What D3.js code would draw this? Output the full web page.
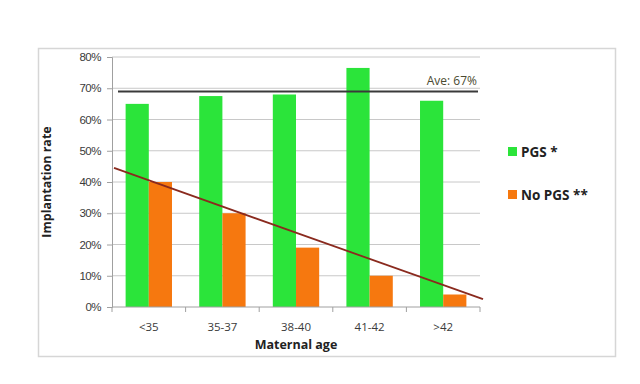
<!DOCTYPE html>
<html>
<head>
<meta charset="utf-8">
<script src="https://cdn.jsdelivr.net/npm/d3@7"></script>
<style>
  body { margin: 0; background: #fff; }
  svg { display: block; font-family: "Open Sans", "Liberation Sans", sans-serif; }
</style>
</head>
<body>
<svg width="640" height="384"></svg>
<script>
// data
var ages = ["<35", "35-37", "38-40", "41-42", ">42"];
var pgs = [0.65, 0.675, 0.68, 0.765, 0.66];
var noPgs = [0.40, 0.30, 0.19, 0.10, 0.04];
var yTicks = [0, 0.1, 0.2, 0.3, 0.4, 0.5, 0.6, 0.7, 0.8];
var aveValue = 0.69;      // drawn position of the average line
var aveLabel = "Ave: 67%";
var trend = [0.445, 0.025]; // trend line at left and right end of the axis

var svg = d3.select("svg");

// outer frame
svg.append("rect")
    .attr("x", 38.5).attr("y", 48.5)
    .attr("width", 577).attr("height", 308)
    .attr("fill", "#fff")
    .attr("stroke", "#d6d6d6")
    .attr("stroke-width", 1.5);

var plotLeft = 112, plotRight = 480, plotTop = 57, plotBottom = 307;

var x = d3.scaleBand().domain(ages).range([plotLeft, plotRight]).paddingInner(0.37).paddingOuter(0.185);
var y = d3.scaleLinear().domain([0, 0.8]).range([plotBottom, plotTop]);

// gridlines
svg.append("g").selectAll("line")
    .data(yTicks.slice(1))
    .enter().append("line")
    .attr("x1", plotLeft).attr("x2", plotRight)
    .attr("y1", function(d) { return y(d); })
    .attr("y2", function(d) { return y(d); })
    .attr("stroke", "#c8c8c8")
    .attr("stroke-width", 1);

// y axis
var yAxis = svg.append("g")
    .attr("transform", "translate(" + plotLeft + ",0)")
    .call(d3.axisLeft(y).tickValues(yTicks).tickFormat(d3.format(".0%")).tickSize(5).tickPadding(6));
yAxis.select(".domain").attr("stroke", "#a0a0a0");
yAxis.selectAll(".tick line").attr("stroke", "#a0a0a0");
yAxis.selectAll("text").attr("font-size", 11.5).attr("fill", "#3a3a3a").attr("letter-spacing", "-0.5");

// bars
var half = x.bandwidth() / 2;
svg.append("g").selectAll("rect")
    .data(pgs)
    .enter().append("rect")
    .attr("x", function(d, i) { return x(ages[i]); })
    .attr("y", function(d) { return y(d); })
    .attr("width", half)
    .attr("height", function(d) { return plotBottom - y(d); })
    .attr("fill", "#2be43a");

svg.append("g").selectAll("rect")
    .data(noPgs)
    .enter().append("rect")
    .attr("x", function(d, i) { return x(ages[i]) + half; })
    .attr("y", function(d) { return y(d); })
    .attr("width", half)
    .attr("height", function(d) { return plotBottom - y(d); })
    .attr("fill", "#f6780f");

// x axis
var xBounds = d3.range(ages.length + 1).map(function(i) { return plotLeft + i * (plotRight - plotLeft) / ages.length; });
var xAxis = svg.append("g").attr("transform", "translate(0," + plotBottom + ")");
xAxis.append("line").attr("x1", plotLeft).attr("x2", plotRight).attr("stroke", "#a0a0a0");
xAxis.selectAll(".tk")
    .data(xBounds)
    .enter().append("line")
    .attr("x1", function(d) { return d; }).attr("x2", function(d) { return d; })
    .attr("y1", 0).attr("y2", 5)
    .attr("stroke", "#a0a0a0");
xAxis.selectAll("text")
    .data(ages)
    .enter().append("text")
    .attr("x", function(d) { return x(d) + x.bandwidth() / 2; })
    .attr("y", 24)
    .attr("text-anchor", "middle")
    .attr("font-size", 11.5)
    .attr("fill", "#3a3a3a")
    .text(function(d) { return d; });

// average line
svg.append("line")
    .attr("x1", plotLeft + 6).attr("x2", plotRight - 2)
    .attr("y1", y(aveValue)).attr("y2", y(aveValue))
    .attr("stroke", "#3a3a3a")
    .attr("stroke-width", 2);
svg.append("text")
    .attr("x", 477).attr("y", y(aveValue) - 6)
    .attr("text-anchor", "end")
    .attr("font-size", 12)
    .attr("fill", "#4a4a30")
    .text(aveLabel);

// trend line
svg.append("line")
    .attr("x1", plotLeft + 2).attr("x2", plotRight + 3)
    .attr("y1", y(trend[0])).attr("y2", y(trend[1]))
    .attr("stroke", "#8a2a1e")
    .attr("stroke-width", 1.8);

// axis titles
svg.append("text")
    .attr("transform", "translate(51," + ((plotTop + plotBottom) / 2) + ") rotate(-90)")
    .attr("text-anchor", "middle")
    .attr("font-size", 12.5)
    .attr("font-weight", "bold")
    .attr("fill", "#222")
    .text("Implantation rate");
svg.append("text")
    .attr("x", (plotLeft + plotRight) / 2).attr("y", 349)
    .attr("text-anchor", "middle")
    .attr("font-size", 12.5)
    .attr("font-weight", "bold")
    .attr("fill", "#222")
    .text("Maternal age");

// legend
var legend = [["PGS *", "#2be43a", 152], ["No PGS **", "#f6780f", 195]];
var lg = svg.append("g").selectAll("g")
    .data(legend)
    .enter().append("g")
    .attr("transform", function(d) { return "translate(508," + d[2] + ")"; });
lg.append("rect")
    .attr("x", 0).attr("y", -5)
    .attr("width", 9).attr("height", 9)
    .attr("fill", function(d) { return d[1]; });
lg.append("text")
    .attr("x", 13).attr("y", 5)
    .attr("font-size", 13.5)
    .attr("font-weight", "bold")
    .attr("fill", "#222")
    .text(function(d) { return d[0]; });
</script>
</body>
</html>
